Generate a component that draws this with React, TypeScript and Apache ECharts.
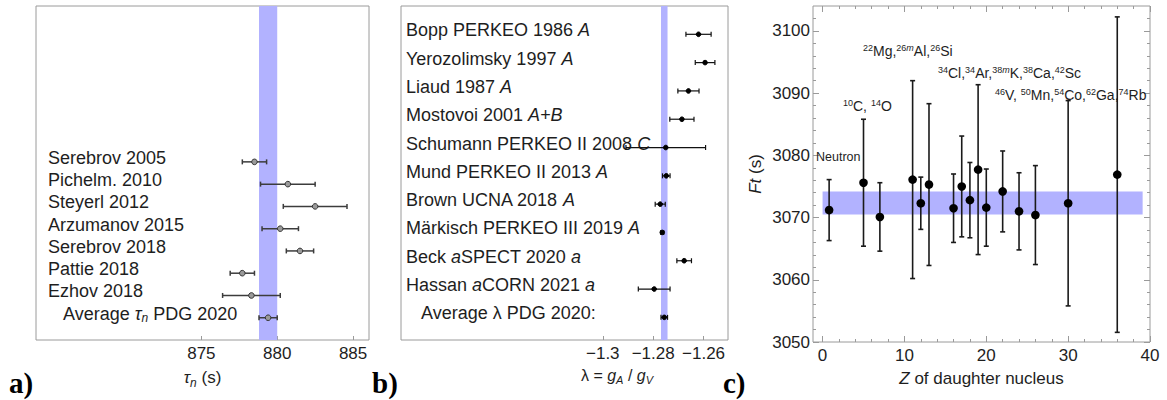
import React, { useEffect, useRef } from "react";
import * as echarts from "echarts";

const FONT = '"Liberation Sans", Arial, Helvetica, sans-serif';
const SERIF = '"Liberation Serif", "Times New Roman", serif';
const TEXT = "#1e1e1e";
const FRAME = "#9a9a9a";
const BAND = "#b2b2ff";

// ---------- Panel a: neutron lifetime ----------
const tauLabels = [
  "Serebrov 2005",
  "Pichelm. 2010",
  "Steyerl 2012",
  "Arzumanov 2015",
  "Serebrov 2018",
  "Pattie 2018",
  "Ezhov 2018",
  "{ind|Average }{it|τ}{sub|n} PDG 2020",
];
const tauValues = [878.5, 880.7, 882.5, 880.2, 881.5, 877.7, 878.3, 879.4];
const tauErrors = [0.8, 1.8, 2.1, 1.2, 0.9, 0.8, 1.9, 0.6];
const tauTicks = [875, 880, 885];

// ---------- Panel b: lambda = gA/gV ----------
const lambdaLabels = [
  "Bopp PERKEO 1986 {it|A}",
  "Yerozolimsky 1997 {it|A}",
  "Liaud 1987 {it|A}",
  "Mostovoi 2001 {it|A+B}",
  "Schumann PERKEO II 2008 {it|C}",
  "Mund PERKEO II 2013 {it|A}",
  "Brown UCNA 2018 {it|A}",
  "Märkisch PERKEO III 2019 {it|A}",
  "Beck {it|a}SPECT 2020 {it|a}",
  "Hassan {it|a}CORN 2021 {it|a}",
  "{ind|Average λ PDG 2020:}",
];
const lambdaValues = [-1.262, -1.2594, -1.266, -1.2686, -1.275, -1.2748, -1.2772, -1.2764, -1.2677, -1.2796, -1.2756];
const lambdaErrors = [0.005, 0.0039, 0.0042, 0.0048, 0.0158, 0.0015, 0.002, 0.0006, 0.0029, 0.0063, 0.0013];
const lambdaTicks = [-1.3, -1.28, -1.26];

// ---------- Panel c: Ft values ----------
const ftZ = [0.8, 5, 7, 11, 12, 13, 16, 17, 18, 19, 20, 22, 24, 26, 30, 36];
const ftValues = [3071.2, 3075.6, 3070.1, 3076.1, 3072.3, 3075.3, 3071.5, 3075.0, 3072.8, 3077.7, 3071.6, 3074.2, 3071.0, 3070.4, 3072.3, 3076.9];
const ftErrors = [4.9, 10.2, 5.5, 15.9, 4.2, 13.0, 5.5, 8.1, 6.05, 13.65, 6.2, 6.5, 6.2, 7.95, 16.5, 25.35];
const ftBandZ = [0, 39.1];
const ftBandValues = [3070.5, 3074.2];
const zTicks = [0, 10, 20, 30, 40];
const zMinorTicks = [2, 4, 6, 8, 12, 14, 16, 18, 22, 24, 26, 28, 32, 34, 36, 38];
const ftTicks = [3050, 3060, 3070, 3080, 3090, 3100];
const ftMinorTicks = [3052, 3054, 3056, 3058, 3062, 3064, 3066, 3068, 3072, 3074, 3076, 3078, 3082, 3084, 3086, 3088, 3092, 3094, 3096, 3098, 3102];
const ftAnnotations = [
  "Neutron",
  "{s|10}C, {s|14}O",
  "{s|22}Mg,{s|26}{si|m}Al,{s|26}Si",
  "{s|34}Cl,{s|34}Ar,{s|38}{si|m}K,{s|38}Ca,{s|42}Sc",
  "{s|46}V, {s|50}Mn,{s|54}Co,{s|62}Ga,{s|74}Rb",
];

function labelRich(size: number) {
  return {
    ind: { padding: [0, 0, 0, 15], fontSize: size, fontFamily: FONT, color: TEXT },
    it: { fontStyle: "italic", fontSize: size, fontFamily: FONT, color: TEXT },
    sub: { fontStyle: "italic", fontSize: Math.round(size * 0.68), fontFamily: FONT, color: TEXT, verticalAlign: "bottom" },
  };
}

function hErrorBars(xIdx: number, yIdx: number, data: number[][], st: any) {
  return {
    type: "custom",
    xAxisIndex: xIdx,
    yAxisIndex: yIdx,
    z: 5,
    encode: { x: 0, y: 2 },
    data,
    clip: false,
    renderItem: (params: any, api: any) => {
      const v = api.value(0), e = api.value(1), r = api.value(2);
      const a = api.coord([v - e, r]);
      const b = api.coord([v + e, r]);
      const c = api.coord([v, r]);
      const ls = { stroke: st.bar, lineWidth: st.width };
      return {
        type: "group",
        children: [
          { type: "line", shape: { x1: a[0], y1: a[1], x2: b[0], y2: b[1] }, style: ls },
          { type: "line", shape: { x1: a[0], y1: a[1] - st.cap, x2: a[0], y2: a[1] + st.cap }, style: ls },
          { type: "line", shape: { x1: b[0], y1: b[1] - st.cap, x2: b[0], y2: b[1] + st.cap }, style: ls },
          { type: "circle", shape: { cx: c[0], cy: c[1], r: st.r }, style: { fill: st.fill, stroke: st.stroke, lineWidth: 1 } },
        ],
      };
    },
  };
}

function vBand(xIdx: number, yIdx: number, lo: number, hi: number) {
  return {
    type: "custom",
    xAxisIndex: xIdx,
    yAxisIndex: yIdx,
    z: 1,
    encode: { x: [0, 1] },
    data: [[lo, hi]],
    renderItem: (params: any, api: any) => {
      const cs = params.coordSys;
      const x0 = api.coord([api.value(0), 0])[0];
      const x1 = api.coord([api.value(1), 0])[0];
      return { type: "rect", shape: { x: x0, y: cs.y, width: x1 - x0, height: cs.height }, style: { fill: BAND } };
    },
  };
}

function buildOption() {
  const n = tauValues.length - 1;
  const m = lambdaValues.length - 1;
  const tickLabel = { fontSize: 17, fontFamily: FONT, color: TEXT };
  const noLine = { show: false, onZero: false };
  const grid = (left: number, width: number, height: number) => ({
    left, top: 6, width, height, show: true, borderColor: FRAME, borderWidth: 1, backgroundColor: "transparent",
  });
  const tickOnly = (gridIndex: number, position: string, min: number, max: number, values: number[], len: number) => ({
    type: "value", gridIndex, position, min, max,
    axisLine: noLine, splitLine: { show: false },
    axisLabel: { show: false },
    axisTick: { show: true, inside: true, length: len, customValues: values, lineStyle: { color: FRAME } },
  });
  // labels sit a few pixels above their data row (shift is a fraction of a row)
  const rowLabel = (labels: string[], margin: number, shift: number) => ({
    inside: true, margin, fontSize: 18, fontFamily: FONT, color: TEXT, lineHeight: 20,
    showMinLabel: true, showMaxLabel: true, hideOverlap: false,
    customValues: labels.map((_, i) => i - shift),
    formatter: (v: number) => labels[Math.round(v)] ?? "",
    rich: labelRich(18),
  });

  return {
    animation: false,
    backgroundColor: "#fff",
    grid: [grid(36, 333, 334), grid(401, 327, 334), grid(813, 337, 336)],
    xAxis: [
      {
        type: "value", gridIndex: 0, min: 864.1, max: 886.05,
        axisLine: noLine, splitLine: { show: false },
        axisTick: { show: true, inside: true, length: 4, customValues: tauTicks, lineStyle: { color: FRAME } },
        axisLabel: { ...tickLabel, margin: 5, customValues: tauTicks },
        name: "{it|τ}{sub|n} (s)", nameLocation: "middle", nameGap: 23,
        nameTextStyle: { fontSize: 17, fontFamily: FONT, color: TEXT, lineHeight: 22, rich: labelRich(17) },
      },
      {
        type: "value", gridIndex: 1, min: -1.3801, max: -1.2503,
        axisLine: noLine, splitLine: { show: false },
        axisTick: { show: true, inside: true, length: 4, customValues: lambdaTicks, lineStyle: { color: FRAME } },
        axisLabel: { ...tickLabel, margin: 5, customValues: lambdaTicks, formatter: (v: number) => String(v).replace("-", "\u2212") },
      },
      {
        type: "value", gridIndex: 2, min: -1.17, max: 40,
        axisLine: noLine, splitLine: { show: false },
        axisTick: { show: true, inside: true, length: 6, customValues: zTicks, lineStyle: { color: FRAME } },
        axisLabel: { ...tickLabel, margin: 5, customValues: zTicks, formatter: (v: number) => String(v) },
        name: "{it|Z} of daughter nucleus", nameLocation: "middle", nameGap: 25,
        nameTextStyle: { fontSize: 17, fontFamily: FONT, color: TEXT, lineHeight: 20, rich: labelRich(17) },
      },
      tickOnly(2, "bottom", -1.17, 40, zMinorTicks, 3),
      tickOnly(2, "top", -1.17, 40, zTicks, 6),
      tickOnly(2, "top", -1.17, 40, zMinorTicks, 3),
    ],
    yAxis: [
      {
        type: "value", gridIndex: 0, min: -7, max: 8, inverse: true,
        axisLine: noLine, splitLine: { show: false }, axisTick: { show: false },
        axisLabel: rowLabel(tauLabels, 12, 0.18),
      },
      {
        type: "value", gridIndex: 1, min: -1, max: 10.8, inverse: true,
        axisLine: noLine, splitLine: { show: false }, axisTick: { show: false },
        axisLabel: rowLabel(lambdaLabels, 5, 0.14),
      },
      {
        type: "value", gridIndex: 2, min: 3050, max: 3104,
        axisLine: noLine, splitLine: { show: false },
        axisTick: { show: true, inside: true, length: 6, customValues: ftTicks, lineStyle: { color: FRAME } },
        axisLabel: { ...tickLabel, margin: 3, customValues: ftTicks, formatter: (v: number) => String(v) },
        name: "{it|Ft} (s)", nameLocation: "middle", nameGap: 48,
        nameTextStyle: { fontSize: 17, fontFamily: FONT, color: TEXT, lineHeight: 20, rich: labelRich(17) },
      },
      tickOnly(2, "left", 3050, 3104, ftMinorTicks, 3),
      tickOnly(2, "right", 3050, 3104, ftTicks, 6),
      tickOnly(2, "right", 3050, 3104, ftMinorTicks, 3),
    ],
    series: [
      vBand(0, 0, tauValues[n] - tauErrors[n], tauValues[n] + tauErrors[n]),
      hErrorBars(0, 0, tauValues.map((v, i) => [v, tauErrors[i], i]), { bar: "#3c3c3c", width: 1.5, cap: 2.5, r: 2.8, fill: "#9a9a9a", stroke: "#333" }),
      vBand(1, 1, lambdaValues[m] - lambdaErrors[m], lambdaValues[m] + lambdaErrors[m]),
      hErrorBars(1, 1, lambdaValues.map((v, i) => [v, lambdaErrors[i], i]), { bar: "#111", width: 1.2, cap: 2.5, r: 2.3, fill: "#000", stroke: "#000" }),
      {
        type: "custom", xAxisIndex: 2, yAxisIndex: 2, z: 1,
        encode: { x: [0, 1], y: [2, 3] },
        data: [[ftBandZ[0], ftBandZ[1], ftBandValues[0], ftBandValues[1]]],
        renderItem: (params: any, api: any) => {
          const p0 = api.coord([api.value(0), api.value(3)]);
          const p1 = api.coord([api.value(1), api.value(2)]);
          return { type: "rect", shape: { x: p0[0], y: p0[1], width: p1[0] - p0[0], height: p1[1] - p0[1] }, style: { fill: BAND } };
        },
      },
      {
        type: "custom", xAxisIndex: 2, yAxisIndex: 2, z: 5,
        encode: { x: 0, y: 1 },
        data: ftZ.map((z, i) => [z, ftValues[i], ftErrors[i]]),
        renderItem: (params: any, api: any) => {
          const z = api.value(0), v = api.value(1), e = api.value(2);
          const a = api.coord([z, v - e]);
          const b = api.coord([z, v + e]);
          const c = api.coord([z, v]);
          const ls = { stroke: "#1a1a1a", lineWidth: 1.6 };
          return {
            type: "group",
            children: [
              { type: "line", shape: { x1: a[0], y1: a[1], x2: b[0], y2: b[1] }, style: ls },
              { type: "line", shape: { x1: a[0] - 2.5, y1: a[1], x2: a[0] + 2.5, y2: a[1] }, style: ls },
              { type: "line", shape: { x1: b[0] - 2.5, y1: b[1], x2: b[0] + 2.5, y2: b[1] }, style: ls },
              { type: "circle", shape: { cx: c[0], cy: c[1], r: 4.3 }, style: { fill: "#000" } },
            ],
          };
        },
      },
    ],
    graphic: [
      ...[
        { x: 816, y: 157, size: 12.5 },
        { x: 843, y: 106, size: 14 },
        { x: 863, y: 51, size: 14 },
        { x: 938, y: 73, size: 14 },
        { x: 995, y: 95, size: 14 },
      ].map((p, i) => ({
        type: "text", x: p.x, y: p.y, z: 10,
        style: {
          text: ftAnnotations[i],
          fontSize: p.size, fontFamily: FONT, fill: TEXT, lineHeight: 16,
          align: "left", verticalAlign: "middle",
          rich: {
            s: { fontSize: 9, fontFamily: FONT, fill: TEXT, verticalAlign: "top" },
            si: { fontSize: 9, fontFamily: FONT, fill: TEXT, fontStyle: "italic", verticalAlign: "top" },
          },
        },
      })),
      {
        type: "text", x: 617, y: 375,
        style: {
          text: "λ = {it|g}{sub|A} / {it|g}{sub|V}",
          fontSize: 16, fontFamily: FONT, fill: TEXT, lineHeight: 20, align: "center", verticalAlign: "middle",
          rich: {
            it: { fontSize: 16, fontFamily: FONT, fill: TEXT, fontStyle: "italic" },
            sub: { fontSize: 11, fontFamily: FONT, fill: TEXT, fontStyle: "italic", verticalAlign: "bottom" },
          },
        },
      },
      ...["a)", "b)", "c)"].map((t, i) => ({
        type: "text", x: [9, 372, 723][i], y: 383,
        style: { text: t, fontSize: 29, fontWeight: "bold", fontFamily: SERIF, fill: "#000", align: "left", verticalAlign: "middle" },
      })),
    ],
  };
}

export default function App() {
  const ref = useRef<HTMLDivElement>(null);
  useEffect(() => {
    document.body.style.margin = "0";
    const chart = echarts.init(ref.current!, null, { renderer: "svg" });
    chart.setOption(buildOption() as any);
    return () => chart.dispose();
  }, []);
  return (
    <div
      ref={ref}
      style={{ position: "absolute", left: 0, top: 0, width: 1167, height: 400, background: "#fff" }}
    />
  );
}
